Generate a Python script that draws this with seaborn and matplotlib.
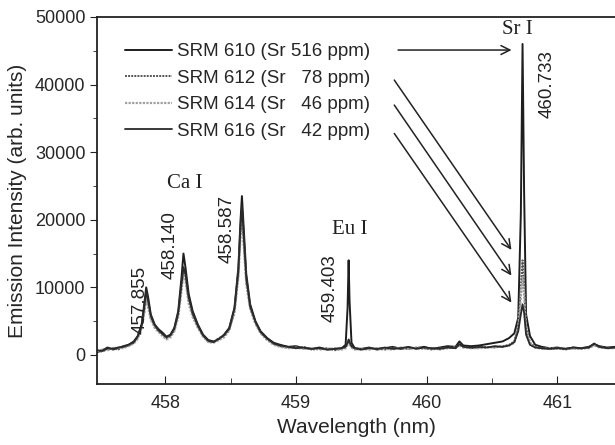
import numpy as np
import pandas as pd
import seaborn as sns
import matplotlib.pyplot as plt

# wavelength grid (nm)
wl = [457.48, 457.52, 457.56, 457.60, 457.64, 457.68, 457.72, 457.76, 457.79, 457.82,
      457.84, 457.855, 457.87, 457.89, 457.92, 457.95, 457.98, 458.01, 458.04, 458.07,
      458.10, 458.125, 458.14, 458.155, 458.18, 458.21, 458.25, 458.29, 458.33, 458.37,
      458.41, 458.45, 458.49, 458.53, 458.56, 458.575, 458.587, 458.60, 458.62, 458.65,
      458.69, 458.73, 458.78, 458.83, 458.88, 458.94, 459.00, 459.06, 459.12, 459.18,
      459.24, 459.30, 459.35, 459.38, 459.395, 459.403, 459.41, 459.425, 459.45, 459.50,
      459.56, 459.62, 459.68, 459.74, 459.80, 459.86, 459.92, 459.98, 460.04, 460.10,
      460.16, 460.22, 460.25, 460.28, 460.34, 460.40, 460.46, 460.52, 460.58, 460.63,
      460.67, 460.70, 460.72, 460.733, 460.745, 460.76, 460.79, 460.83, 460.88, 460.94,
      461.00, 461.06, 461.12, 461.18, 461.24, 461.28, 461.32, 461.38, 461.44]

srm610 = [400, 700, 1100, 800, 1000, 1300, 1500, 2000, 2800, 4500,
          7500, 10000, 8500, 6000, 4500, 3800, 3300, 2700, 3000, 4000,
          6500, 11500, 15000, 13000, 9000, 6500, 4500, 3000, 2200, 2000,
          2300, 3000, 4000, 7000, 13000, 19500, 23500, 19000, 12000, 7500,
          5000, 3500, 2500, 1800, 1500, 1200, 1300, 1000, 900, 1100,
          800, 900, 1000, 1500, 7000, 14000, 8000, 1800, 1000, 900,
          1100, 800, 1000, 1200, 900, 1100, 1000, 1200, 900, 1100,
          1300, 1200, 2000, 1400, 1300, 1400, 1600, 1800, 2000, 2500,
          3200, 5500, 21000, 46000, 24000, 6000, 2800, 1500, 1200, 1000,
          1100, 900, 1100, 1000, 1200, 1600, 1300, 1100, 1200]

srm612 = [600, 500, 900, 1000, 800, 1200, 1400, 1800, 2600, 4200,
          6500, 9000, 7500, 5500, 4300, 3500, 3000, 2400, 2800, 3700,
          6000, 10000, 12500, 11500, 8000, 6000, 4200, 2800, 2000, 1900,
          2500, 2800, 3800, 6500, 12000, 18000, 21000, 17000, 11000, 7000,
          4800, 3300, 2300, 1600, 1300, 1100, 1000, 1200, 800, 900,
          1000, 700, 900, 1100, 1700, 2100, 1800, 1200, 900, 800,
          1000, 900, 800, 1100, 1000, 900, 1100, 1000, 800, 1000,
          1100, 1000, 1500, 1200, 1000, 1100, 1200, 1100, 1300, 1500,
          2000, 4500, 10000, 14000, 10500, 4000, 1800, 1200, 1000, 900,
          1000, 800, 1000, 900, 1100, 1500, 1200, 1000, 1100]

srm614 = [500, 800, 700, 1000, 1100, 1000, 1300, 1700, 2400, 4000,
          6000, 8500, 7000, 5200, 4000, 3400, 2800, 2300, 2600, 3500,
          5600, 9500, 12000, 11000, 7600, 5600, 4000, 2700, 1900, 1800,
          2200, 2600, 3600, 6200, 11500, 17000, 20000, 16500, 10500, 6800,
          4600, 3200, 2200, 1500, 1200, 1000, 1100, 900, 1000, 800,
          900, 1000, 800, 1000, 1500, 1900, 1600, 1100, 800, 900,
          800, 1000, 900, 800, 1100, 900, 1000, 900, 1000, 800,
          1000, 1100, 1400, 1100, 1000, 1000, 1100, 1200, 1200, 1400,
          1800, 4000, 8500, 11500, 9000, 3500, 1600, 1100, 900, 1000,
          900, 1000, 900, 1000, 1000, 1400, 1100, 1000, 1000]

srm616 = [700, 600, 1000, 900, 1100, 1200, 1500, 1900, 2700, 4400,
          7000, 9500, 8000, 5800, 4400, 3600, 3100, 2600, 2900, 3900,
          6200, 10500, 13000, 12000, 8500, 6200, 4300, 2900, 2100, 1900,
          2400, 2900, 3900, 6800, 12500, 18500, 22000, 18000, 11500, 7200,
          4900, 3400, 2400, 1700, 1400, 1200, 1000, 1100, 900, 1000,
          800, 900, 1000, 1200, 1800, 2300, 1900, 1300, 1000, 800,
          1000, 900, 1100, 900, 1000, 1200, 900, 1100, 1000, 900,
          1100, 1000, 1600, 1200, 1100, 1200, 1100, 1300, 1200, 1400,
          1900, 3500, 6000, 7500, 6200, 3000, 1500, 1100, 1000, 900,
          1000, 900, 1100, 1000, 1100, 1700, 1200, 1000, 1100]

labels = ['SRM 610 (Sr 516 ppm)', 'SRM 612 (Sr   78 ppm)',
          'SRM 614 (Sr   46 ppm)', 'SRM 616 (Sr   42 ppm)']

line_names = ['457.855', '458.140', '458.587', '459.403', '460.733']
line_pos = [(457.81, 8100), (458.04, 16300), (458.47, 18600), (459.26, 9900), (460.92, 40000)]
elements = ['Ca I', 'Eu I', 'Sr I']
element_pos = [(458.15, 25400), (459.41, 18500), (460.69, 48100)]

df = pd.DataFrame({'wl': wl * 4,
                   'I': srm610 + srm612 + srm614 + srm616,
                   'sample': np.repeat(labels, len(wl))})

sns.set_style('ticks')
plt.rcParams['font.family'] = ['Liberation Sans', 'DejaVu Sans']

fig = plt.figure(figsize=(6.15, 4.45), dpi=100)
ax = fig.add_axes([0.158, 0.137, 0.842, 0.825])

colors = ['#1e1e1e', '#555555', '#a0a0a0', '#2a2a2a']
styles = ['-', (0, (1, 0.6)), (0, (1, 0.6)), '-']
widths = [1.4, 1.4, 1.6, 1.3]
for lab, c, ls, lw in zip(labels, colors, styles, widths):
    sns.lineplot(data=df[df['sample'] == lab], x='wl', y='I', ax=ax,
                 color=c, linestyle=ls, lw=lw, label=lab)

leg = ax.legend(loc='upper left', bbox_to_anchor=(0.021, 0.975), frameon=False,
                fontsize=13.5, handlelength=2.5, handletextpad=0.3, labelspacing=0.5)

# arrows from legend entries to Sr peaks
arrow_start = [(459.76, 45100), (459.74, 41000), (459.74, 37300), (459.74, 33100)]
arrow_end = [(460.67, 45100), (460.66, 15200), (460.66, 11400), (460.66, 7400)]
for s, e in zip(arrow_start, arrow_end):
    ax.annotate('', xy=e, xytext=s,
                arrowprops=dict(arrowstyle='->', lw=1.1, color='#222222', mutation_scale=16))

for name, (x, y) in zip(line_names, line_pos):
    ax.text(x, y, name, rotation=90, ha='center', va='center', fontsize=13.5, color='#222222')
for name, (x, y) in zip(elements, element_pos):
    ax.text(x, y, name, ha='center', va='center', fontsize=15,
            family=['Liberation Serif', 'DejaVu Serif'], color='#222222')

ax.set_xlim(457.48, 461.44)
ax.set_ylim(-4300, 50000)
ax.set_xticks([458, 459, 460, 461])
ax.set_xticks([458.5, 459.5, 460.5], minor=True)
ax.set_yticks([0, 10000, 20000, 30000, 40000, 50000])
ax.set_yticks([5000, 15000, 25000, 35000, 45000], minor=True)
ax.tick_params(axis='x', which='both', direction='in', labelsize=13, pad=8, color='#222222')
ax.tick_params(axis='x', which='major', length=6)
ax.tick_params(axis='x', which='minor', length=4)
ax.tick_params(axis='y', which='both', direction='out', labelsize=13, color='#222222')
ax.tick_params(axis='y', which='major', length=5)
ax.tick_params(axis='y', which='minor', length=3)
ax.set_xlabel('Wavelength (nm)', fontsize=15, labelpad=4)
ax.set_ylabel('Emission Intensity (arb. units)', fontsize=15, labelpad=6)
ax.spines['right'].set_visible(False)
for sp in ['left', 'top', 'bottom']:
    ax.spines[sp].set_linewidth(1.3)
    ax.spines[sp].set_color('#222222')

fig.savefig('out.png', dpi=100)
plt.close()
